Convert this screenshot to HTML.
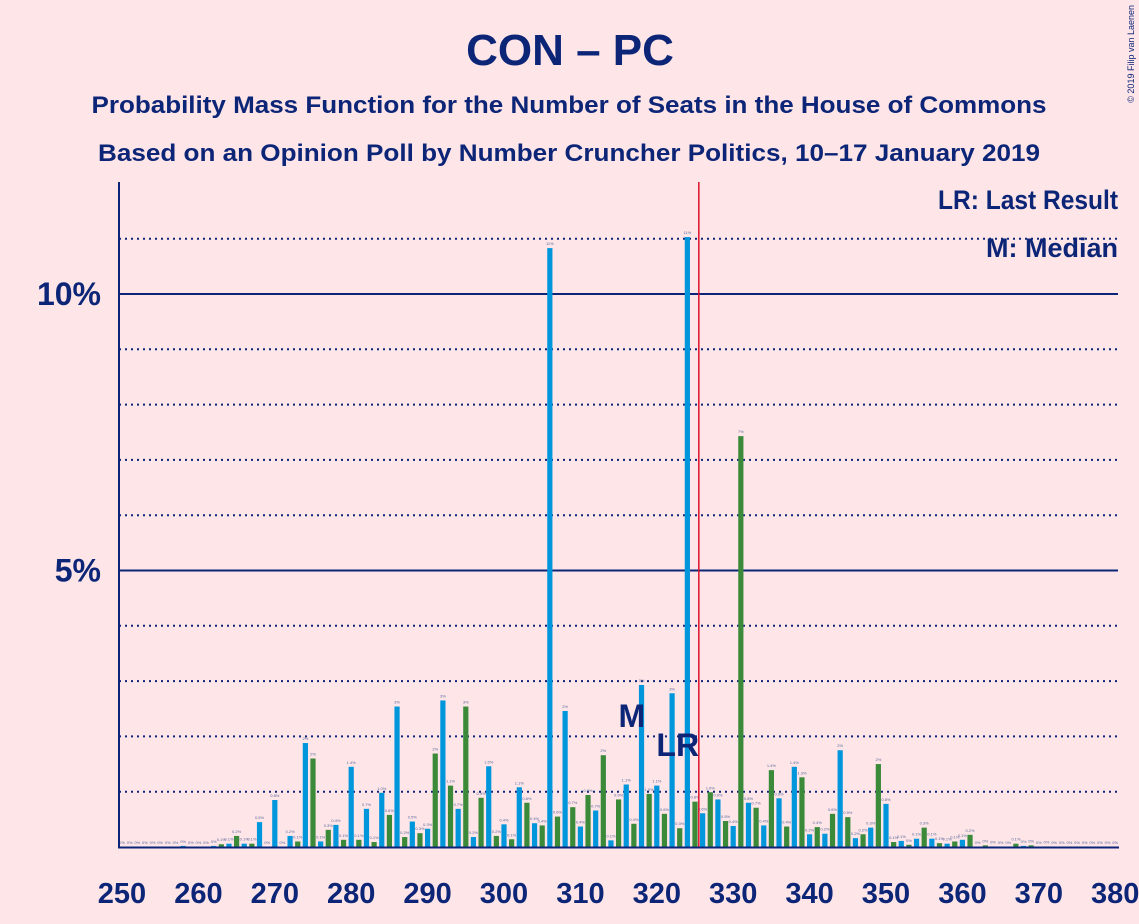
<!DOCTYPE html>
<html><head><meta charset="utf-8"><style>
body{margin:0;background:#fde5e8;}
svg{display:block;font-family:"Liberation Sans",sans-serif;}
</style></head><body>
<svg id="c" width="1139" height="924">
<rect width="1139" height="924" fill="#fde5e8"/>
<text x="570" y="65" text-anchor="middle" font-size="44" font-weight="bold" fill="#0c2577">CON – PC</text>
<text x="569" y="113" text-anchor="middle" font-size="24" font-weight="bold" fill="#0c2577" textLength="955" lengthAdjust="spacingAndGlyphs">Probability Mass Function for the Number of Seats in the House of Commons</text>
<text x="569" y="161" text-anchor="middle" font-size="24" font-weight="bold" fill="#0c2577" textLength="942" lengthAdjust="spacingAndGlyphs">Based on an Opinion Poll by Number Cruncher Politics, 10–17 January 2019</text>
<text x="1134" y="5" transform="rotate(-90 1134 5)" text-anchor="end" font-size="9" fill="#0c2577">© 2019 Filip van Laenen</text>
<g id="grid"></g>
<g id="bars"></g>
<g id="axes"></g>
<text x="1118" y="209" text-anchor="end" font-size="27" font-weight="bold" fill="#0c2577" textLength="180" lengthAdjust="spacingAndGlyphs">LR: Last Result</text>
<text x="1118" y="257" text-anchor="end" font-size="27" font-weight="bold" fill="#0c2577">M: Median</text>
</svg>
<script>
const seats=[];for(let s=250;s<=380;s++)seats.push(s);
const probs=[0,0,0,0,0,0,0,0,0.02,0,0,0,0.02,0.05,0.06,0.2,0.06,0.06,0.45,0,
0.85,0,0.2,0.1,1.88,1.6,0.1,0.31,0.4,0.13,
1.45,0.13,0.69,0.09,0.98,0.58,2.54,0.18,0.46,0.25,
0.33,1.69,2.65,1.11,0.69,2.54,0.18,0.89,1.46,0.2,
0.41,0.14,1.08,0.8,0.43,0.39,10.83,0.55,2.46,0.72,
0.37,0.94,0.66,1.66,0.12,0.86,1.13,0.42,2.93,0.96,
1.11,0.6,2.78,0.34,11.03,0.82,0.61,0.99,0.86,0.47,
0.38,7.43,0.8,0.71,0.39,1.39,0.88,0.37,1.45,1.26,
0.23,0.36,0.24,0.6,1.75,0.54,0.16,0.23,0.35,1.5,
0.78,0.09,0.11,0.04,0.15,0.35,0.15,0.07,0.06,0.1,
0.13,0.22,0,0.03,0.01,0,0,0.06,0.02,0.03,0,0.01,0,0,0,0,0,0,0,0,0];
const yTicks=[5,10];
const xTicks=[250,260,270,280,290,300,310,320,330,340,350,360,370,380];
const medianSeat=317, lastResult=325.5;
const NS="http://www.w3.org/2000/svg";
const X0=122,XS=7.64,Y0=847,YS=55.3;
const xs=s=>X0+(s-250)*XS, ys=v=>Y0-v*YS;
function el(t,a,p){const e=document.createElementNS(NS,t);for(const k in a)e.setAttribute(k,a[k]);p.appendChild(e);return e;}
const grid=document.getElementById('grid'),bars=document.getElementById('bars'),axes=document.getElementById('axes');
for(let v=1;v<=11;v++){
  const solid=yTicks.includes(v);
  const g=el('line',{x1:119,x2:1118,y1:ys(v),y2:ys(v),stroke:'#0c2577','stroke-width':2,'stroke-dasharray':solid?'none':'2,4'},grid);
  
  
}
seats.forEach((s,i)=>{
  const v=probs[i];const x=xs(s);
  const r=el('rect',{x:x-2.6,y:ys(v),width:5.2,height:v*YS,fill:s%2===0?'#0096dc':'#3a8a3a'},bars);
  
  
  const lbl=v<0.05?'0%':(v<1.5?v.toFixed(1)+'%':Math.round(v)+'%');
  const t=el('text',{x:x,y:ys(v)-3,'text-anchor':'middle','font-size':4,fill:'#5a6a9a'},bars);
  t.textContent=lbl;
  
  
});
const lr=el('line',{x1:xs(lastResult),x2:xs(lastResult),y1:182,y2:847,stroke:'#e0102a','stroke-width':1.5},axes);


const ya=el('line',{x1:119,x2:119,y1:182,y2:848,stroke:'#0c2577','stroke-width':2},axes);


const xa=el('line',{x1:118,x2:1119,y1:847.5,y2:847.5,stroke:'#0c2577','stroke-width':2},axes);


yTicks.forEach(v=>{const t=el('text',{x:101,y:ys(v)+11,'text-anchor':'end','font-size':32,'font-weight':'bold',fill:'#0c2577'},axes);t.textContent=v+'%';

});
xTicks.forEach(s=>{const t=el('text',{x:xs(s),y:903,'text-anchor':'middle','font-size':29,'font-weight':'bold',fill:'#0c2577'},axes);t.textContent=s;

});
const m=el('text',{x:xs(medianSeat)-2,y:727,'text-anchor':'middle','font-size':32,'font-weight':'bold',fill:'#0c2577'},axes);m.textContent='M';


const l=el('text',{x:xs(323)-2,y:756,'text-anchor':'middle','font-size':32,'font-weight':'bold',fill:'#0c2577'},axes);l.textContent='LR';


</script>
</body></html>
